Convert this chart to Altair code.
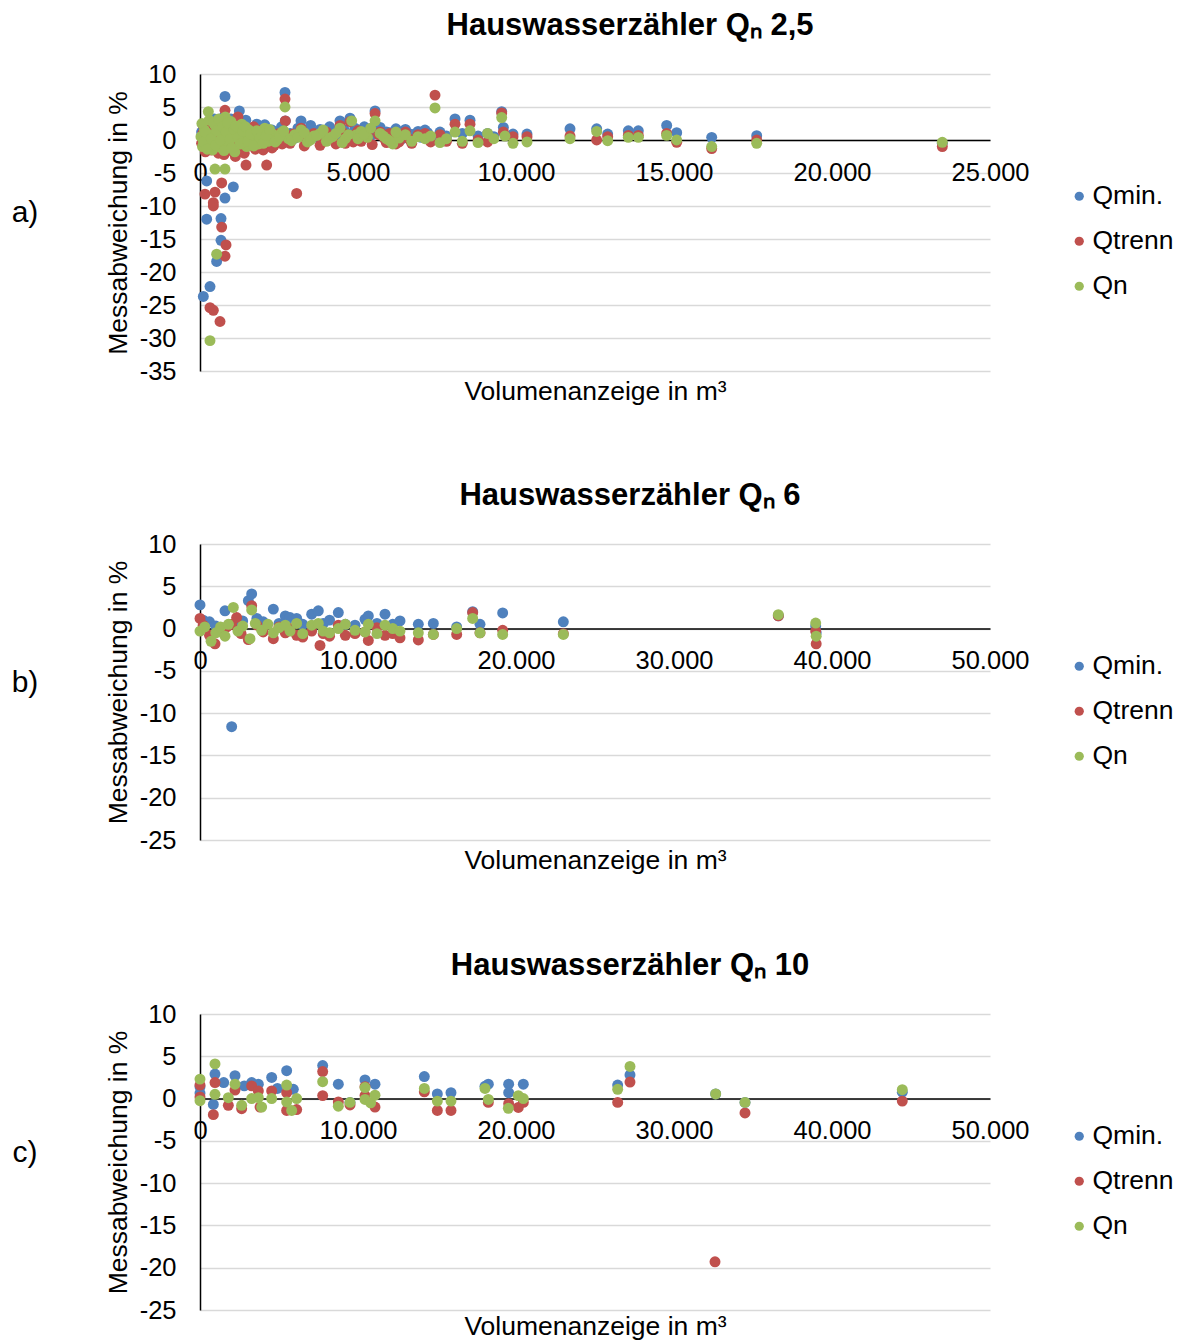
import altair as alt
import pandas as pd

SERIES = ["Qmin.", "Qtrenn", "Qn"]
COLORS = ["#4F81BD", "#C0504D", "#9BBB59"]
FONT = "Liberation Sans"

# ---------------- Panel a) Qn 2,5 ----------------
a_min_x = [50, 80, 105, 150, 211, 211, 250, 316, 380, 420, 480, 527, 560, 620, 665, 665, 700, 750, 791, 791,
           850, 900, 950, 1000, 1055, 1100, 1180, 1245, 1300, 1380, 1450, 1520, 1600, 1700, 1800, 1900, 2000,
           2100, 2200, 2350, 2500, 2690, 2700, 2850, 3000, 3196, 3400, 3600, 3800, 4000, 4200, 4430, 4600,
           4747, 4900, 5100, 5300, 5540, 5700, 5900, 6100, 6300, 6500, 6700, 6900, 7120, 7300, 7595, 7800,
           8070, 8300, 8544, 8800, 9100, 9300, 9547, 9600, 9905, 10348, 11709, 12553, 12901, 13554, 13871,
           14768, 15085, 16193, 17617, 23491]
a_min_y = [1.2, -0.5, -23.7, 0.5, -6.2, -12.0, 1.8, -22.2, 0.3, -0.8, 2.0, -18.4, 1.0, -0.5, -11.9, -15.2,
           2.5, 0.8, 6.6, -8.8, 1.5, -1.0, 2.2, 0.2, -7.1, 1.6, -0.6, 4.4, 2.0, 0.9, 3.0, -0.3, 1.8, 0.6, 2.4,
           1.0, -0.4, 1.7, 0.8, 1.2, 0.4, 7.2, 2.9, 1.0, 0.3, 2.9, 1.2, 0.5, 1.6, 0.8, 1.3, 2.9, 1.0, 3.3, 1.8,
           0.6, 1.5, 4.4, 1.9, 1.2, 0.4, 0.8, 1.6, 0.5, 1.3, 1.5, 0.3, 1.2, 0.6, 3.2, 1.0, 3.0, 0.6, 1.0, 0.5,
           4.3, 1.9, 0.9, 0.9, 1.7, 1.7, 0.9, 1.4, 1.4, 2.2, 1.1, 0.4, 0.65, -0.5]
a_min_cluster_x = [100, 180, 280, 340, 450, 510, 590, 640, 720, 770, 820, 870, 930, 980, 1030, 1150, 1220,
                   1330, 1420, 1560, 1650, 1750, 1850, 1950, 2050, 2150, 2280, 2420, 2580, 2900, 3100, 3300,
                   3500, 3700, 3900, 4100, 4350, 4550, 4850, 5200, 5450, 5650, 5850, 6000, 6200, 6400, 6600,
                   6800, 7000, 7200]
a_min_cluster_y = [2.2, 0.8, -1.2, 1.6, 3.2, 0.0, 2.8, 1.3, -0.3, 3.6, 0.6, 2.9, 1.1, 3.2, -0.8, 2.6, 0.4,
                   1.4, 2.1, 0.7, 1.5, -0.2, 1.9, 0.5, 2.3, 0.2, 1.5, 0.9, 2.0, 0.6, 1.8, 0.9, 2.2, 0.4, 1.4,
                   2.0, 0.7, 1.6, 1.1, 2.0, 0.8, 1.4, 0.3, 1.1, 1.7, 0.2, 1.0, 0.9, 0.4, 1.1]

a_trenn_x = [50, 120, 158, 200, 316, 350, 422, 422, 422, 475, 520, 580, 633, 686, 686, 740, 791, 791, 823,
             870, 920, 980, 1050, 1120, 1200, 1280, 1350, 1456, 1500, 1600, 1700, 1800, 1900, 2000, 2110,
             2200, 2350, 2500, 2690, 2700, 2850, 3059, 3200, 3400, 3600, 3800, 4000, 4200, 4430, 4600, 4747,
             4900, 5100, 5300, 5540, 5700, 5900, 6100, 6300, 6500, 6700, 6900, 7120, 7300, 7437, 7595, 7800,
             8070, 8300, 8544, 8800, 9100, 9547, 9600, 9905, 10348, 11709, 12553, 12901, 13554, 13871,
             14768, 15085, 16193, 17617, 23491]
a_trenn_y = [-0.5, 2.0, -8.2, 0.8, -25.4, -1.5, -10.0, -9.5, -25.8, -7.9, 1.2, -2.0, -27.5, -6.5, -13.2, 0.5,
             -17.6, 4.5, -15.9, -1.2, 2.5, -0.8, 1.5, -2.5, 3.5, 0.5, -1.8, -3.8, 1.2, -0.6, 2.0, -1.0, 0.8,
             -1.5, -3.8, 0.5, -0.8, 1.0, 6.2, 2.9, -0.5, -8.1, 1.8, -0.2, 1.0, -0.8, 1.2, 0.2, 2.2, -0.5, 2.8,
             0.8, -0.2, 1.0, 4.0, 1.2, -0.4, 0.6, -0.3, 1.2, -0.5, 0.8, 1.0, -0.3, 6.8, 0.8, -0.2, 2.4, -0.5,
             2.4, 0.0, -0.3, 4.1, 1.2, 0.5, 0.5, 0.6, 0.0, 0.5, 0.7, 0.7, 1.0, -0.35, -1.3, 0.0, -1.0]
a_trenn_cluster_x = [90, 170, 260, 300, 390, 450, 500, 560, 620, 680, 760, 810, 850, 900, 960, 1010, 1080,
                     1160, 1230, 1310, 1400, 1480, 1550, 1650, 1750, 1850, 1950, 2050, 2160, 2280, 2420, 2600,
                     2950, 3300, 3500, 3700, 3900, 4100, 4300, 4500, 4850, 5000, 5200, 5450, 5650, 5850, 6000,
                     6200, 6400, 6600]
a_trenn_cluster_y = [1.0, -1.8, 2.6, -0.5, 1.8, -1.2, 0.4, 2.8, -0.9, 1.4, -2.2, 0.9, 2.0, -1.6, 0.3, 1.8,
                     -0.5, 2.2, -1.0, 1.0, -2.0, 0.6, -0.8, 1.2, -1.4, 0.4, 1.5, -0.6, 0.8, -1.2, 0.3, -0.6,
                     0.9, -0.9, 0.5, 0.8, -0.2, 0.6, -0.6, 1.2, -0.3, 1.4, 0.4, -0.7, 0.8, 0.1, 1.0, -0.6, 0.4,
                     0.2]

a_qn_x = [30, 80, 140, 200, 264, 316, 330, 400, 475, 480, 527, 560, 620, 680, 740, 791, 800, 850, 920, 980,
          1050, 1100, 1180, 1250, 1320, 1400, 1480, 1550, 1650, 1750, 1850, 1950, 2050, 2150, 2300, 2450,
          2600, 2690, 2800, 3000, 3200, 3400, 3600, 3800, 4000, 4200, 4430, 4600, 4800, 4950, 5100, 5300,
          5540, 5700, 5900, 6100, 6300, 6500, 6700, 6900, 7120, 7300, 7437, 7595, 7800, 8070, 8300, 8544,
          8800, 9100, 9300, 9547, 9650, 9905, 10348, 11709, 12553, 12901, 13554, 13871, 14768, 15085,
          16193, 17617, 23491]
a_qn_y = [0.5, -1.0, 1.5, -0.5, 4.3, -30.4, 0.8, -1.5, -4.4, 2.2, -17.3, -0.3, 1.8, -1.2, 0.3, -4.4, 3.5,
          1.0, -0.8, 2.8, 0.5, -1.8, 1.8, -0.2, 2.4, 0.8, -1.0, 1.5, 0.2, 1.2, -0.6, 0.6, 1.8, -0.2, 0.9, 0.1,
          1.2, 5.0, 0.2, 0.8, 1.5, -0.3, 0.6, 1.0, -0.2, 0.5, 1.8, 0.2, 2.9, 0.8, 1.3, 0.4, 2.9, 1.0, 0.2,
          -0.6, 0.3, 0.8, -0.2, 0.5, 0.2, 0.6, 4.85, -0.4, 0.2, 1.2, -0.2, 1.4, -0.4, 1.0, 0.2, 3.4, 0.6,
          -0.5, -0.3, 0.2, 1.3, -0.1, 0.4, 0.4, 0.7, 0.0, -1.0, -0.5, -0.35]
a_qn_cluster_x = [60, 110, 170, 230, 290, 360, 430, 500, 540, 590, 650, 710, 760, 830, 880, 950, 1010, 1080,
                  1140, 1210, 1290, 1360, 1440, 1520, 1600, 1700, 1800, 1900, 2000, 2100, 2200, 2380, 2520,
                  2650, 2900, 3100, 3300, 3500, 3700, 3900, 4100, 4300, 4500, 4700, 5000, 5200, 5400, 5800,
                  6000, 6200]
a_qn_cluster_y = [2.5, -0.3, 1.2, -1.4, 3.0, 0.2, 2.6, -0.8, 1.4, 3.2, 0.0, 2.0, -1.6, 1.2, 2.6, 0.1, -1.2,
                  1.6, 2.1, 0.4, -0.6, 1.3, 2.0, -0.2, 0.9, -0.9, 1.4, 0.3, -0.5, 0.7, 1.6, -0.3, 0.5, 1.4,
                  -0.1, 0.4, 1.1, 0.0, 0.7, 1.5, 0.3, 1.0, -0.4, 0.8, 0.2, 0.9, 1.8, 0.6, -0.1, 1.2]

# ---------------- Panel b) Qn 6 ----------------
b_min_x = [0, 200, 600, 1000, 1582, 2004, 2400, 2700, 3060, 3270, 3600, 4000, 4641, 5000, 5400, 5700, 6117,
           6500, 7068, 7489, 7800, 8200, 8755, 9200, 9810, 10443, 10654, 11200, 11709, 12200, 12658, 13818,
           14768, 16245, 17257, 17722, 19156, 22996, 36603, 38968, 39000]
b_min_y = [2.8, 1.0, 0.8, 0.3, 2.1, -11.6, 0.5, 0.9, 3.3, 4.1, 1.2, 0.8, 2.3, 0.6, 1.5, 1.3, 1.2, 0.5, 1.7,
           2.1, 0.6, 1.0, 1.9, 0.5, 0.4, 1.1, 1.5, 0.6, 1.7, 0.5, 0.9, 0.5, 0.6, 0.2, 2.0, 0.5, 1.85, 0.8,
           1.5, 0.3, -0.5]

b_trenn_x = [0, 200, 600, 949, 1300, 1700, 2004, 2320, 2600, 3060, 3270, 3600, 4000, 4641, 5000, 5400, 5700,
             6117, 6500, 7068, 7595, 7800, 8200, 8755, 9200, 9810, 10443, 10654, 11200, 11709, 12200, 12658,
             13818, 14768, 16245, 17257, 17722, 19156, 22996, 36603, 38968, 39000]
b_trenn_y = [1.2, 0.4, -0.8, -1.8, -0.3, 0.2, 0.5, 1.3, -0.6, -1.3, 2.7, 0.4, -0.4, -1.2, 0.2, -0.5, 0.0,
             -0.8, -1.0, -0.3, -2.0, -0.6, -0.9, 0.4, -0.8, -0.6, -0.4, -1.4, 0.1, -0.8, -0.6, -1.1, -1.35,
             -0.7, -0.7, 1.9, -0.5, -0.2, -0.6, 1.5, -0.3, -1.8]

b_qn_x = [0, 300, 700, 1000, 1300, 1582, 1800, 2110, 2400, 2700, 3165, 3270, 3500, 3900, 4300, 4641, 5000,
          5400, 5700, 6117, 6500, 7068, 7489, 7800, 8200, 8755, 9200, 9810, 10443, 10654, 11200, 11709,
          12200, 12658, 13818, 14768, 16245, 17257, 17722, 19156, 22996, 36603, 38968, 39000]
b_qn_y = [-0.3, 0.2, -1.5, -0.5, 0.2, -0.9, 0.5, 2.5, -0.3, 0.3, -1.2, 2.2, 0.6, -0.2, 0.5, -0.5, 0.1, 0.4,
          -0.3, 0.6, -0.6, 0.4, 0.6, -0.3, -0.5, 0.0, 0.5, -0.2, -0.4, 0.5, -0.6, 0.4, 0.0, -0.3, -0.5, -0.7,
          0.0, 1.2, -0.5, -0.7, -0.7, 1.65, 0.65, -0.9]

# ---------------- Panel c) Qn 10 ----------------
c_min_x = [0, 0, 844, 949, 1500, 2215, 2800, 3270, 3692, 4536, 4900, 5485, 5907, 7764, 8755, 9494, 10443,
           11076, 14198, 15021, 15885, 18038, 18249, 19535, 19535, 20464, 26435, 27215, 32637, 34494, 44449]
c_min_y = [1.4, 0.65, -0.7, 2.9, 1.9, 2.7, 1.5, 1.9, 1.7, 2.5, 1.2, 3.3, 1.1, 3.9, 1.7, -0.45, 2.2, 1.7, 2.6,
           0.55, 0.7, 1.45, 1.7, 1.7, 0.7, 1.7, 1.6, 2.8, 0.55, -0.45, 0.75]

c_trenn_x = [0, 0, 844, 949, 1793, 2215, 2637, 3270, 3692, 3800, 4536, 5485, 5485, 6118, 7764, 7764, 8755,
             9494, 10443, 10443, 11076, 14198, 15021, 15885, 18249, 19535, 20147, 20464, 26435, 27215,
             32595, 34494, 44449]
c_trenn_y = [1.6, 0.2, -1.9, 1.9, -0.8, 1.0, -1.2, 1.5, 0.9, -1.0, 0.9, 0.7, -1.4, -1.3, 3.2, 0.35, -0.4,
             -0.75, 1.4, 0.35, -1.0, 0.8, -1.4, -1.4, -0.45, -0.6, -1.05, -0.45, -0.45, 1.95, -19.3, -1.7,
             -0.3]

c_qn_x = [0, 0, 949, 949, 1793, 2215, 2637, 3270, 3692, 3903, 4536, 5485, 5485, 5802, 6118, 7764, 8755,
          9494, 10443, 10443, 10800, 11076, 14198, 15021, 15885, 18038, 18249, 19514, 20147, 20464, 26435,
          27215, 32637, 34494, 44449]
c_qn_y = [2.3, -0.25, 4.1, 0.5, 0.1, 1.7, -0.8, 0.0, 0.1, -1.0, 0.0, 1.6, -0.4, -1.4, 0.0, 2.0, -0.9, -0.45,
          1.3, -0.1, -0.5, 0.4, 1.2, -0.3, -0.3, 1.2, -0.1, -1.15, 0.35, 0.0, 1.1, 3.8, 0.55, -0.45, 1.05]


def frame(xs_list, ys_list):
    rows = []
    for s, xs, ys in zip(SERIES, xs_list, ys_list):
        for x, y in zip(xs, ys):
            rows.append({"Volumen": x, "Abweichung": y, "Serie": s})
    return pd.DataFrame(rows)


Y_LABEL = "datum.value < 0 ? '-' + format(-datum.value, 'd') : format(datum.value, 'd')"
X_LABEL = "replace(format(datum.value, ','), ',', '.')"


def panel(df, letter, title_text, xmax, ymin, height, x_title_y):
    zero_from_top = height * 10 / (10 - ymin)
    offset = -(height - zero_from_top)
    xticks = [xmax * i // 5 for i in range(6)]
    yticks = list(range(ymin, 11, 5))
    points = alt.Chart(df).mark_circle(size=120, opacity=1).encode(
        x=alt.X("Volumen:Q",
                scale=alt.Scale(domain=[0, xmax], nice=False),
                axis=alt.Axis(values=xticks, labelExpr=X_LABEL,
                              grid=False, ticks=False, domainColor="black", domainWidth=1.5,
                              offset=offset, labelFontSize=25.5, labelFont=FONT, labelColor="black",
                              labelPadding=20, labelFlush=False, labelOverlap=False,
                              title="Volumenanzeige in m³", titleFontSize=26.5, titleFont=FONT,
                              titleFontWeight="normal", titleColor="black",
                              titleY=x_title_y, titleBaseline="alphabetic")),
        y=alt.Y("Abweichung:Q",
                scale=alt.Scale(domain=[ymin, 10], nice=False),
                axis=alt.Axis(values=yticks, labelExpr=Y_LABEL, grid=True, gridColor="#D9D9D9",
                              gridWidth=1.5, ticks=False, domainColor="black", domainWidth=1.5,
                              labelFontSize=25.5, labelFont=FONT, labelColor="black", labelPadding=24,
                              labelOverlap=False,
                              title="Messabweichung in %", titleFontSize=26.5, titleFont=FONT,
                              titleFontWeight="normal", titleColor="black",
                              titleX=-74, titleAngle=270, titleBaseline="alphabetic")),
        color=alt.Color("Serie:N",
                        scale=alt.Scale(domain=SERIES, range=COLORS),
                        legend=alt.Legend(title=None, orient="none", legendX=866, legendY=109,
                                          symbolType="circle", symbolSize=85, symbolStrokeWidth=0,
                                          labelFontSize=26.5, labelFont=FONT, labelColor="black",
                                          labelOffset=0, rowPadding=18, padding=0)),
    )
    label = alt.Chart(pd.DataFrame({"t": [letter]})).mark_text(
        fontSize=30, font=FONT, align="center", baseline="alphabetic", color="black"
    ).encode(text="t:N", x=alt.value(-175), y=alt.value(148))
    return alt.layer(points, label).properties(
        width=790, height=height,
        title=alt.TitleParams(text=title_text, fontSize=31, font=FONT, fontWeight="bold",
                              color="black", anchor="middle", frame="group", dx=35, offset=20.5),
    )


dfa = frame([a_min_x + a_min_cluster_x, a_trenn_x + a_trenn_cluster_x, a_qn_x + a_qn_cluster_x],
            [a_min_y + a_min_cluster_y, a_trenn_y + a_trenn_cluster_y, a_qn_y + a_qn_cluster_y])
pa = panel(dfa, "a)", "Hauswasserzähler Qₙ 2,5", 25000, -35, 297, 259)
pb = panel(frame([b_min_x, b_trenn_x, b_qn_x], [b_min_y, b_trenn_y, b_qn_y]),
           "b)", "Hauswasserzähler Qₙ 6", 50000, -25, 296, 240)
pc = panel(frame([c_min_x, c_trenn_x, c_qn_x], [c_min_y, c_trenn_y, c_qn_y]),
           "c)", "Hauswasserzähler Qₙ 10", 50000, -25, 296, 236)

chart = alt.vconcat(pa, pb, pc, spacing=74).resolve_scale(
    color="independent", x="independent", y="independent"
).resolve_legend(color="independent").configure_view(stroke=None).properties(
    padding={"left": 11, "top": 9, "right": 0, "bottom": 0}, background="white"
)

chart.save("out.html", embed_options={"renderer": "svg", "actions": False})
